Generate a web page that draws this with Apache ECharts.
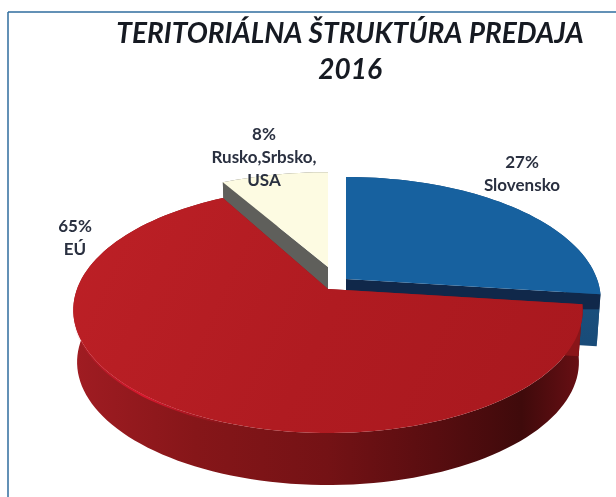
<!DOCTYPE html>
<html><head><meta charset="utf-8">
<style>html,body{margin:0;padding:0;background:#fff}#c{width:616px;height:497px}</style>
<script src="https://cdn.jsdelivr.net/npm/echarts@6/dist/echarts.min.js"></script>
</head><body><div id="c"></div>
<script>
const categories = ['Slovensko', 'EÚ', 'Rusko,Srbsko,\nUSA'];
const values = [27, 65, 8];
const titleLines = ['TERITORIÁLNA ŠTRUKTÚRA PREDAJA', '2016'];

const G = echarts.graphic;
const hgrad = (stops) => new G.LinearGradient(0, 0, 1, 0, stops.map((c) => ({offset: c[0], color: c[1]})));
// look of each slice: where its exploded apex sits, vertical squeeze, colours, label anchor
const looks = [
  {x: 346, y: 279, sy: 1, top: '#17619f',
   inner: new G.LinearGradient(0, 0, 0, 1, [{offset: 0, color: '#10284a'}, {offset: .44, color: '#10284a'}, {offset: .46, color: '#1a4f7c'}, {offset: 1, color: '#194b78'}]),
   wall: hgrad([[0, '#154a78'], [1, '#1b4f7c']]), lx: 522, ly: 163, z: 1},
  {x: 328, y: 289, sy: 1,
   top: new G.LinearGradient(0, 0, 1, 1, [{offset: 0, color: '#bd2026'}, {offset: .5, color: '#b01b21'}, {offset: 1, color: '#a8181e'}]),
   inner: '#8a1519',
   wall: hgrad([[0, '#a01c22'], [.24, '#861619'], [.5, '#741215'], [.71, '#580d10'], [.88, '#3f0a0b'], [1, '#6a0f14']]), lx: 75, ly: 227, z: 5},
  {x: 328, y: 267, sy: .93, top: '#fdfbe2', inner: '#5f5f5b',
   wall: '#5f5f5b', lx: 264, ly: 135, z: 1}
];
const R = 251, A = 119.4, B = -0.171, DEPTH = 52, FLOOR = 0.985;
const total = values.reduce((a, b) => a + b, 0);

function project(look, deg, r, drop, shrink) {
  const t = deg * Math.PI / 180, u = r * Math.sin(t), v = -r * Math.cos(t), d = 1 + B * v;
  return [look.x + shrink * R * u / d, look.y + drop + look.sy * A * v / d];
}
function arc(look, a0, a1, drop, shrink) {
  const pts = [], n = Math.max(2, Math.ceil(Math.abs(a1 - a0) / 2));
  for (let i = 0; i <= n; i++) pts.push(project(look, a0 + (a1 - a0) * i / n, 1, drop, shrink));
  return pts;
}

function renderItem(params, api) {
  const i = params.dataIndex, look = looks[i];
  let a0 = 0;
  for (let k = 0; k < i; k++) a0 += values[k] / total * 360;
  const a1 = a0 + api.value(0) / total * 360;
  const apex = [look.x, look.y], apexLow = [look.x, look.y + DEPTH];
  const children = [];
  // outer wall
  children.push({type: 'polygon', z2: look.z,
    shape: {points: arc(look, a0, a1, 0, 1).concat(arc(look, a1, a0, DEPTH, FLOOR))},
    style: {fill: look.wall}});
  // inner cut walls
  [a0, a1].forEach(a => {
    const p = project(look, a, 1, 0, 1), q = project(look, a, 1, DEPTH, FLOOR);
    children.push({type: 'polygon', z2: look.z + 1, shape: {points: [apex, p, q, apexLow]}, style: {fill: look.inner}});
  });
  // top face
  children.push({type: 'polygon', z2: look.z + 2,
    shape: {points: [apex].concat(arc(look, a0, a1, 0, 1))}, style: {fill: look.top}});
  // rim highlight on the big slice
  if (i === 1) {
    children.push({type: 'polyline', z2: look.z + 3,
      shape: {points: arc(look, 200, 262, 1, 1)},
      style: {fill: 'none', lineWidth: 2,
        stroke: new G.LinearGradient(0, 0, 1, 0, [
          {offset: 0, color: 'rgba(228,24,48,0)'}, {offset: .45, color: 'rgba(228,24,48,.85)'}, {offset: 1, color: 'rgba(228,24,48,0)'}])}});
  }
  // label
  const pct = api.value(0) + '%';
  [pct].concat(categories[i].split('\n')).forEach((line, k) => {
    children.push({type: 'text', z2: 20,
      style: {text: line, x: look.lx, y: look.ly + k * 23, align: 'center', verticalAlign: 'middle',
        fill: '#2a3040', font: 'bold 17px Lato, sans-serif'}});
  });
  return {type: 'group', children};
}

const chart = echarts.init(document.getElementById('c'), null, {renderer: 'canvas'});
chart.setOption({
  animation: false,
  backgroundColor: '#ffffff',
  title: titleLines.map((t, i) => ({
    text: t, left: 345, top: i === 0 ? 15 : 51, textAlign: 'center',
    textStyle: {fontFamily: 'Lato, sans-serif', fontWeight: 'bold', fontStyle: 'italic', fontSize: 28, color: '#161a22'}
  })),
  graphic: [
    {type: 'line', shape: {x1: 8, y1: 12, x2: 616, y2: 12}, style: {stroke: '#2f6d9e', lineWidth: 1.5}},
    {type: 'line', shape: {x1: 8, y1: 12, x2: 8, y2: 497}, style: {stroke: '#2f6d9e', lineWidth: 1.5}}
  ],
  series: [{
    type: 'custom', coordinateSystem: 'none', renderItem,
    data: values.map((v, i) => ({name: categories[i], value: [v]}))
  }]
});
</script></body></html>
